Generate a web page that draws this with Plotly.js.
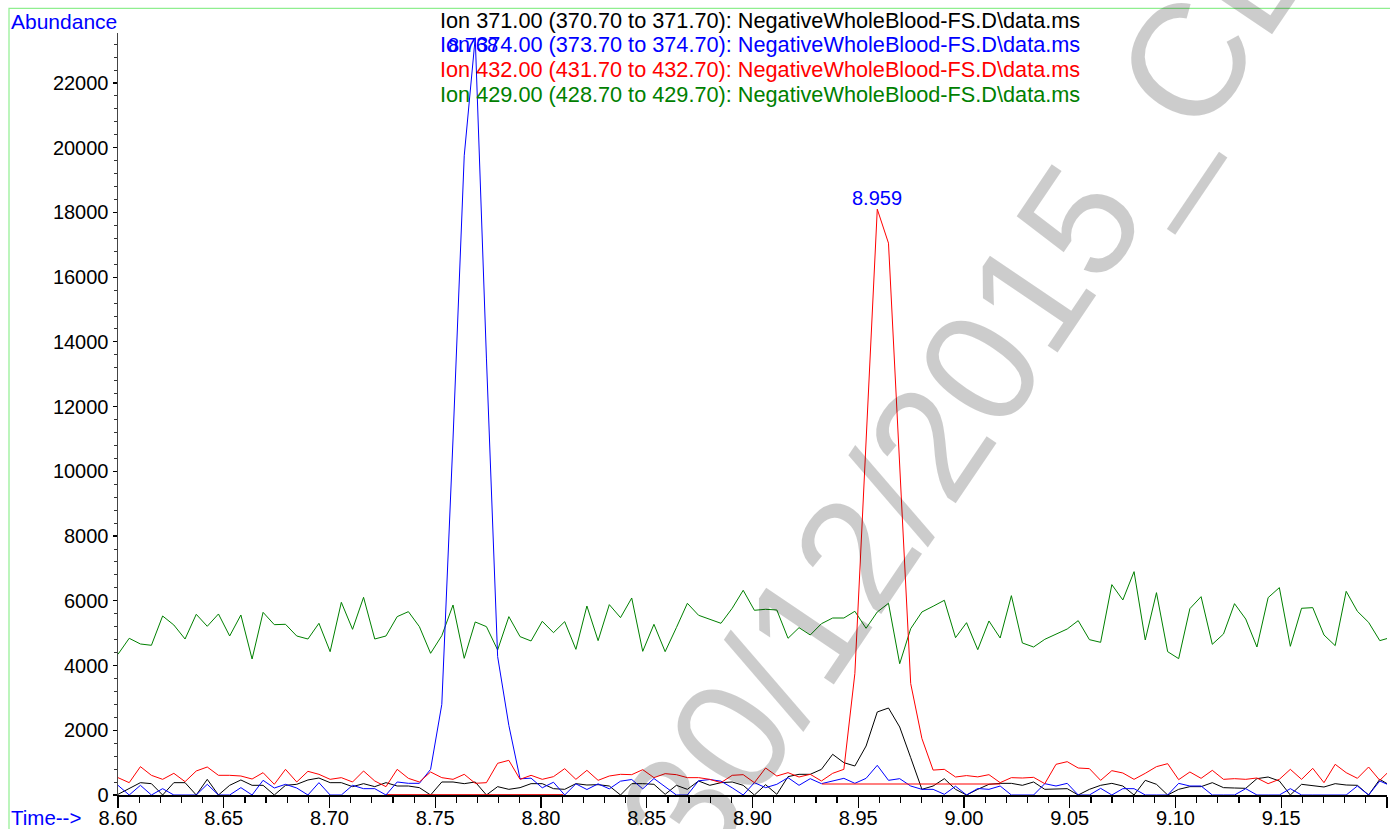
<!DOCTYPE html>
<html>
<head>
<meta charset="utf-8">
<script src="https://cdn.plot.ly/plotly-3.0.1.min.js"></script>
<style>html,body{margin:0;padding:0;background:#fff;}#chart{width:1390px;height:829px;}</style>
</head>
<body>
<div id="chart"></div>
<script>
// Scan times (min)
const times = [8.6000,8.6053,8.6106,8.6158,8.6211,8.6264,8.6317,8.6370,8.6422,8.6475,
8.6528,8.6581,8.6634,8.6686,8.6739,8.6792,8.6845,8.6898,8.6950,8.7003,
8.7056,8.7109,8.7161,8.7214,8.7267,8.7320,8.7373,8.7425,8.7478,8.7531,
8.7584,8.7637,8.7689,8.7742,8.7795,8.7848,8.7901,8.7953,8.8006,8.8059,
8.8112,8.8165,8.8217,8.8270,8.8323,8.8376,8.8429,8.8481,8.8534,8.8587,
8.8640,8.8692,8.8745,8.8798,8.8851,8.8904,8.8956,8.9009,8.9062,8.9115,
8.9168,8.9220,8.9273,8.9326,8.9379,8.9432,8.9484,8.9537,8.9590,8.9643,
8.9696,8.9748,8.9801,8.9854,8.9907,8.9960,9.0012,9.0065,9.0118,9.0171,
9.0224,9.0276,9.0329,9.0382,9.0435,9.0488,9.0540,9.0593,9.0646,9.0699,
9.0751,9.0804,9.0857,9.0910,9.0963,9.1015,9.1068,9.1121,9.1174,9.1227,
9.1279,9.1332,9.1385,9.1438,9.1491,9.1543,9.1596,9.1649,9.1702,9.1755,
9.1807,9.1860,9.1913,9.1966,9.2019];

// Ion 371.00 (black)
const ion371 = [20,196,381,350,0,381,381,0,484,0,
299,464,299,299,0,299,330,464,525,381,
381,258,350,258,381,278,278,227,0,402,
402,350,402,0,258,175,227,350,350,196,
175,350,309,319,278,0,350,350,330,21,
299,175,433,299,381,402,299,0,319,21,
567,639,639,793,1257,999,896,1514,2565,2688,
2101,1154,175,278,505,175,0,175,330,360,
360,299,402,175,175,196,0,175,299,360,
278,0,453,330,0,175,258,258,381,227,
216,206,505,556,433,0,330,278,247,350,
309,299,0,484,278];

// Ion 374.00 (blue)
const ion374 = [299,0,299,0,196,0,0,0,330,0,
0,227,0,453,216,330,216,0,381,0,
0,299,196,196,0,402,361,361,793,2800,
11000,19750,23400,13500,4278,2150,500,520,222,395,
0,345,170,345,190,427,479,190,510,253,
0,0,438,479,427,222,0,381,227,330,
536,299,505,350,433,515,361,515,917,453,
505,278,175,175,21,270,0,200,175,278,
0,0,0,350,278,360,0,0,206,0,
196,196,0,0,0,360,278,278,0,0,
0,196,0,0,0,196,0,0,0,0,
0,278,0,433,278];

// Ion 432.00 (red)
const ion432 = [536,381,876,608,484,670,412,742,865,608,
608,587,494,690,330,793,402,731,639,484,
536,402,742,433,258,793,515,402,711,536,
484,639,361,381,979,1071,484,608,484,567,
814,484,762,453,587,639,628,783,536,659,
628,536,536,484,381,608,628,381,834,587,
690,556,639,433,670,793,3753,10900,18100,17050,
10300,3444,1745,770,793,556,600,560,628,381,
536,525,546,350,948,1030,834,814,453,752,
680,484,670,876,968,474,711,515,762,484,
505,484,525,350,484,793,484,824,381,948,
690,515,865,453,793];

// Ion 429.00 (green)
const ion429 = [4348,4842,4666,4625,5531,5253,4820,5583,5212,5593,
4913,5562,4202,5644,5263,5274,4913,4820,5305,4429,
5954,5119,6108,4820,4913,5511,5665,5202,4378,4923,
5871,4223,5346,5202,4481,5511,4893,4759,5367,5016,
5356,4501,5840,4769,5882,5480,6087,4439,5274,4429,
5170,5923,5553,5429,5305,5769,6325,5707,5738,5717,
4842,5170,4944,5293,5469,5469,5676,5151,5655,5923,
4057,5139,5655,5831,6016,4861,5324,4490,5377,4851,
6159,4697,4573,4810,4975,5129,5387,4800,4717,6500,
6026,6901,4790,6252,4429,4213,5758,6128,4656,4975,
5912,5438,4573,6098,6407,4594,5769,5789,4944,4615,
6293,5676,5335,4769,4870];

// Integration baselines
const base1Times = [8.7272, 8.8105];
const base1Values = [0, 0];
const base2Times = [8.9329, 9.0171];
const base2Values = [340, 340];

// Peak apex labels
const peakTimes = [8.768, 8.959];
const peakLabels = ["8.768", "8.959"];

const legendTexts = [
  "Ion 371.00 (370.70 to 371.70): NegativeWholeBlood-FS.D\\data.ms",
  "Ion 374.00 (373.70 to 374.70): NegativeWholeBlood-FS.D\\data.ms",
  "Ion 432.00 (431.70 to 432.70): NegativeWholeBlood-FS.D\\data.ms",
  "Ion 429.00 (428.70 to 429.70): NegativeWholeBlood-FS.D\\data.ms"
];
const seriesColors = ["#000000", "#0000ff", "#ff0000", "#008000"];

const FONT = "Liberation Sans, Arial, Helvetica, sans-serif";

const mk = (y, c) => ({x: times, y: y, type: 'scatter', mode: 'lines',
  line: {color: c, width: 1}, hoverinfo: 'skip', showlegend: false});

const traces = [
  mk(ion429, seriesColors[3]),
  mk(ion371, seriesColors[0]),
  mk(ion374, seriesColors[1]),
  mk(ion432, seriesColors[2]),
  {x: base1Times, y: base1Values, type: 'scatter', mode: 'lines', line: {color: 'rgba(230,0,0,0.85)', width: 2}, showlegend: false, hoverinfo: 'skip'},
  {x: base2Times, y: base2Values, type: 'scatter', mode: 'lines', line: {color: 'rgba(255,0,0,0.5)', width: 2}, showlegend: false, hoverinfo: 'skip'}
];

const L = 118, R = 3, T = 33, B = 34, W = 1390, H = 829;
const pw = W - L - R, ph = H - T - B;
const px = x => (x - L) / pw;
const py = y => (H - B - y) / ph;

const annotations = [];
const legendY = [20, 45, 70, 94.5];
legendTexts.forEach((t, i) => annotations.push({
  xref: 'paper', yref: 'paper', x: px(438), y: py(legendY[i]), xanchor: 'left', yanchor: 'middle',
  text: t, showarrow: false, font: {family: FONT, size: 21.7, color: seriesColors[i]}
}));
annotations.push({xref: 'paper', yref: 'paper', x: px(9), y: py(21), xanchor: 'left', yanchor: 'middle',
  text: 'Abundance', showarrow: false, font: {family: FONT, size: 21, color: '#0000ff'}});
annotations.push({xref: 'paper', yref: 'paper', x: px(9), y: py(817), xanchor: 'left', yanchor: 'middle',
  text: 'Time-->', showarrow: false, font: {family: FONT, size: 20.5, color: '#0000ff'}});
annotations.push({xref: 'x', yref: 'paper', x: peakTimes[0], y: py(45), xanchor: 'center', yanchor: 'middle',
  text: peakLabels[0], showarrow: false, font: {family: FONT, size: 20, color: '#0000ff'}});
annotations.push({xref: 'x', yref: 'paper', x: peakTimes[1], y: py(198), xanchor: 'center', yanchor: 'middle',
  text: peakLabels[1], showarrow: false, font: {family: FONT, size: 20, color: '#0000ff'}});
// watermark
annotations.push({xref: 'paper', yref: 'paper', x: px(962), y: py(394), xanchor: 'center', yanchor: 'middle',
  text: '30/12/2015_CL', textangle: -56, showarrow: false,
  font: {family: FONT, size: 160, color: 'rgba(0,0,0,0.2)'}});

const layout = {
  width: W, height: H,
  margin: {l: L, r: R, t: T, b: B, pad: 0},
  paper_bgcolor: '#ffffff', plot_bgcolor: '#ffffff',
  showlegend: false,
  font: {family: FONT, size: 20, color: '#000'},
  xaxis: {
    range: [8.6, 9.2], dtick: 0.05, tick0: 8.6, tickformat: '.2f',
    showgrid: false, zeroline: false, showline: true, linecolor: '#000', linewidth: 1.5,
    ticks: 'outside', ticklen: 11, tickwidth: 1.2, tickcolor: '#000',
    ticklabelstandoff: -7,
    tickfont: {family: FONT, size: 20, color: '#000'},
    minor: {dtick: 0.01, tick0: 8.6, ticklen: 6, tickwidth: 1.2, tickcolor: '#000', ticks: 'outside', showgrid: false},
    layer: 'below traces', fixedrange: true
  },
  yaxis: {
    range: [0, 23544], dtick: 2000, tick0: 0, tickformat: 'd',
    showgrid: false, zeroline: false, showline: true, linecolor: '#444', linewidth: 1.5,
    ticks: 'outside', ticklen: 4, tickwidth: 1.2, tickcolor: '#000',
    tickfont: {family: FONT, size: 20, color: '#000'},
    minor: {dtick: 400, tick0: 0, ticklen: 3, tickwidth: 1, tickcolor: '#333', ticks: 'outside', showgrid: false},
    layer: 'below traces', fixedrange: true
  },
  shapes: [{
    type: 'rect', xref: 'paper', yref: 'paper',
    x0: px(9), x1: px(1400), y0: py(850), y1: py(8.3),
    line: {color: '#90ee90', width: 1.2}, fillcolor: 'rgba(0,0,0,0)', layer: 'below'
  }],
  annotations: annotations
};

Plotly.newPlot('chart', traces, layout, {staticPlot: true, displayModeBar: false});
</script>
</body>
</html>
